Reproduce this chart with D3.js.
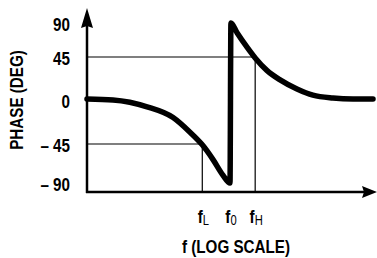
<!DOCTYPE html>
<html>
<head>
<meta charset="utf-8">
<script src="https://cdn.jsdelivr.net/npm/d3@7"></script>
<style>
  body { margin: 0; background: #fff; }
  text { font-family: "Liberation Sans", Arial, Helvetica, sans-serif; font-weight: bold; fill: #000; }
</style>
</head>
<body>
<script>
// phase response (frequency relative to f0, log axis)
var freq  = [0.1, 0.152, 0.263, 0.40, 0.525, 0.64, 0.761, 0.893, 1.0, 1.015, 1.12, 1.315, 1.5, 1.81, 2.24, 2.94, 3.80, 5.25, 7.25, 10];
var phase = [1, 0, -7, -18, -33, -46, -63, -81, -90, 90, 77, 58, 44, 31, 21, 11.5, 5, 2, 1, 1];

var phaseTicks  = [90, 45, 0, -45, -90];
var phaseLabels = ["90", "45", "0", "\u2013 45", "\u2013 90"];

var freqTicks = [0.64, 1.0, 1.5];
var freqSubs  = ["L", "0", "H"];

var fL = 0.64, fH = 1.5;

var width = 377, height = 258;
var narrow = 0.8; // no condensed face installed, squeeze the bold sans instead

var svg = d3.select("body").append("svg")
  .attr("width", width)
  .attr("height", height);

var x = d3.scaleLog()
  .domain([0.1, 10])
  .range([87, 373]);

// the sketch isn't evenly spaced, so a piecewise linear scale
var y = d3.scaleLinear()
  .domain([-90, -45, 0, 45, 90])
  .range([183, 144, 100, 57, 23]);

var axisY = 192;
var axisX = 87;

function place(px, py) {
  return "translate(" + px + "," + py + ") scale(" + narrow + ",1)";
}

// thin guide lines at +/-45 deg
svg.append("line")
  .attr("x1", axisX).attr("x2", x(fH))
  .attr("y1", y(45)).attr("y2", y(45))
  .attr("stroke", "#000").attr("stroke-width", 1.2);
svg.append("line")
  .attr("x1", x(fH)).attr("x2", x(fH))
  .attr("y1", y(45)).attr("y2", axisY)
  .attr("stroke", "#000").attr("stroke-width", 1.2);
svg.append("line")
  .attr("x1", axisX).attr("x2", x(fL))
  .attr("y1", y(-45)).attr("y2", y(-45))
  .attr("stroke", "#000").attr("stroke-width", 1.2);
svg.append("line")
  .attr("x1", x(fL)).attr("x2", x(fL))
  .attr("y1", y(-45)).attr("y2", axisY)
  .attr("stroke", "#000").attr("stroke-width", 1.2);

// axes with arrow heads
svg.append("line")
  .attr("x1", axisX).attr("x2", axisX)
  .attr("y1", axisY + 1).attr("y2", 20)
  .attr("stroke", "#000").attr("stroke-width", 2.5);
svg.append("path")
  .attr("d", "M" + axisX + ",8 L" + (axisX + 6) + ",28 L" + axisX + ",26 L" + (axisX - 6) + ",28 Z")
  .attr("fill", "#000");

svg.append("line")
  .attr("x1", axisX - 1).attr("x2", 366)
  .attr("y1", axisY).attr("y2", axisY)
  .attr("stroke", "#000").attr("stroke-width", 2.5);
svg.append("path")
  .attr("d", "M377," + axisY + " L362," + (axisY - 6) + " L364," + axisY + " L362," + (axisY + 6) + " Z")
  .attr("fill", "#000");

// y tick labels
svg.selectAll(".ylab")
  .data(phaseTicks)
  .enter().append("text")
  .attr("class", "ylab")
  .attr("transform", function(d) { return place(70, y(d) + 8); })
  .attr("text-anchor", "end")
  .style("font-size", "19px")
  .text(function(d, i) { return phaseLabels[i]; });

// x tick labels: f with subscript
var xl = svg.selectAll(".xlab")
  .data(freqTicks)
  .enter().append("text")
  .attr("class", "xlab")
  .attr("transform", function(d) { return place(x(d) + 1, 223); })
  .attr("text-anchor", "middle")
  .style("font-size", "19px");
xl.append("tspan").text("f");
xl.append("tspan")
  .attr("dy", 2)
  .style("font-size", "14px")
  .style("font-weight", "normal")
  .text(function(d, i) { return freqSubs[i]; });

// axis titles
svg.append("text")
  .attr("transform", "translate(23,100) rotate(-90) scale(" + narrow + ",1)")
  .attr("text-anchor", "middle")
  .style("font-size", "19px")
  .text("PHASE (DEG)");

svg.append("text")
  .attr("transform", place(236, 253))
  .attr("text-anchor", "middle")
  .style("font-size", "19px")
  .text("f (LOG SCALE)");

// the phase curve
var pts = freq.map(function(f, i) { return [f, phase[i]]; });
var line = d3.line()
  .x(function(d) { return x(d[0]); })
  .y(function(d) { return y(d[1]); })
  .curve(d3.curveMonotoneX);

svg.append("path")
  .datum(pts)
  .attr("d", line)
  .attr("fill", "none")
  .attr("stroke", "#000")
  .attr("stroke-width", 5.5)
  .attr("stroke-linejoin", "round")
  .attr("stroke-linecap", "round");
</script>
</body>
</html>
